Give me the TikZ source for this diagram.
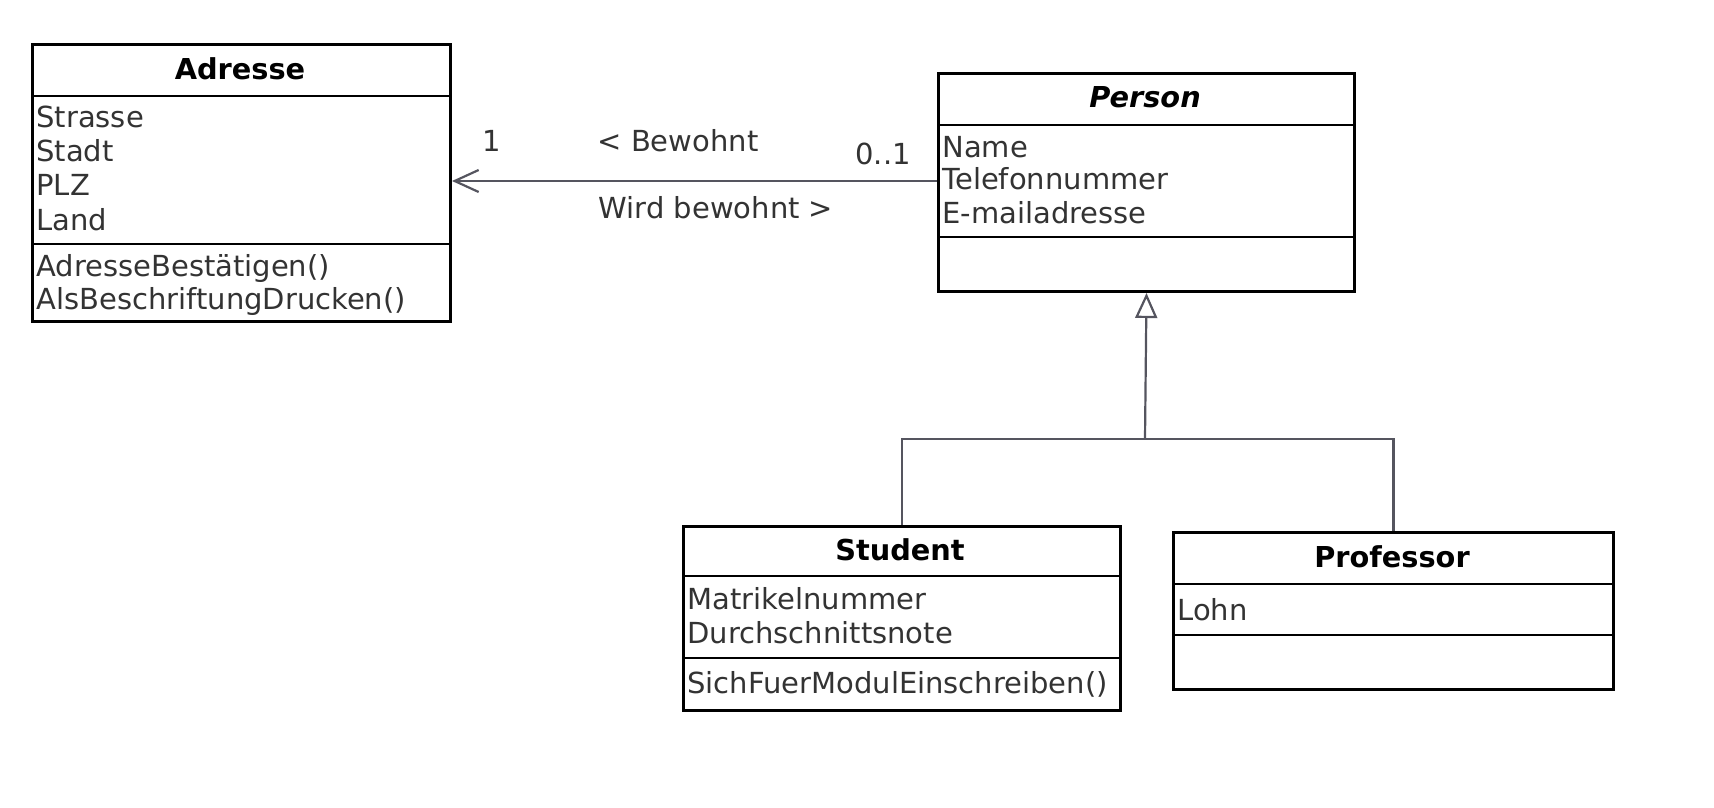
\documentclass[tikz,border=0pt]{standalone}
\usepackage{fontspec}
\setmainfont{DejaVu Sans}
\usetikzlibrary{arrows.meta}
\definecolor{conncol}{HTML}{55555F}
\definecolor{txtcol}{HTML}{333333}
\begin{document}
\begin{tikzpicture}[x=0.5pt,y=-0.5pt,
  classbox/.style={draw=black,line width=1.5pt,inner sep=0pt,anchor=north west,fill=none},
  sepline/.style={draw=black,line width=1.3pt},
  conn/.style={draw=conncol,line width=1.1pt},
  title/.style={font=\fontsize{14.4}{17}\selectfont\bfseries,anchor=base,inner sep=0pt,text=black},
  attr/.style={font=\fontsize{14.5}{17}\selectfont,anchor=base west,inner sep=0pt,text=txtcol},
  lbl/.style={font=\fontsize{14.5}{17}\selectfont,anchor=base,inner sep=0pt,text=txtcol}]
\useasboundingbox (0,0) rectangle (1714,808);
% Adresse
\node[classbox,minimum width=209pt,minimum height=138.5pt] (adr) at (31,43) {};
\draw[sepline] (31,96) -- (449,96);
\draw[sepline] (31,244) -- (449,244);
\node[title] (adrt) at (240,80) {Adresse};
\node[attr] (a1) at (36,128) {Strasse};
\node[attr] (a2) at (36,162) {Stadt};
\node[attr] (a3) at (36,196) {PLZ};
\node[attr] (a4) at (36,230) {Land};
\node[attr] (a5) at (36,276) {AdresseBestätigen()};
\node[attr] (a6) at (36,309) {AlsBeschriftungDrucken()};
% Person
\node[classbox,minimum width=208pt,minimum height=109pt] (per) at (937,72) {};
\draw[sepline] (937,125) -- (1353,125);
\draw[sepline] (937,237) -- (1353,237);
\node[title,font=\fontsize{14.4}{17}\selectfont\bfseries\itshape] (pert) at (1145,108) {Person};
\node[attr] (p1) at (942,157) {Name};
\node[attr] (p2) at (942,190) {Telefonnummer};
\node[attr] (p3) at (942,223) {E-mailadresse};
% Student
\node[classbox,minimum width=218.5pt,minimum height=92pt] (stu) at (682,525) {};
\draw[sepline] (682,576) -- (1119,576);
\draw[sepline] (682,658) -- (1119,658);
\node[title] (stut) at (900,560) {Student};
\node[attr] (s1) at (687,609) {Matrikelnummer};
\node[attr] (s2) at (687,643) {Durchschnittsnote};
\node[attr] (s3) at (687,693) {SichFuerModulEinschreiben()};
% Professor
\node[classbox,minimum width=220pt,minimum height=78.5pt] (prof) at (1172,531) {};
\draw[sepline] (1172,584) -- (1612,584);
\draw[sepline] (1172,635) -- (1612,635);
\node[title] (proft) at (1392,567) {Professor};
\node[attr] (r1) at (1177,620) {Lohn};
% association
\draw[conn,-{Straight Barb[length=12pt,width=11pt,line width=1.1pt]}] (per.west |- 0,181) -- (adr.east |- 0,181);
\node[lbl] (m1) at (492,152) {1};
\node[lbl] (n1) at (678,152) {< Bewohnt};
\node[lbl] (m2) at (883,164) {0..1};
\node[lbl] (n2) at (716,219) {Wird bewohnt >};
% generalization
\coordinate (j) at (1145,439);
\draw[conn] (stu.north) |- (j);
\draw[conn] (prof.north) |- (j);
\draw[conn,-{Triangle[open,length=12.5pt,width=11pt,line width=1.1pt]}] (j) -- (per.south);
\end{tikzpicture}
\end{document}
